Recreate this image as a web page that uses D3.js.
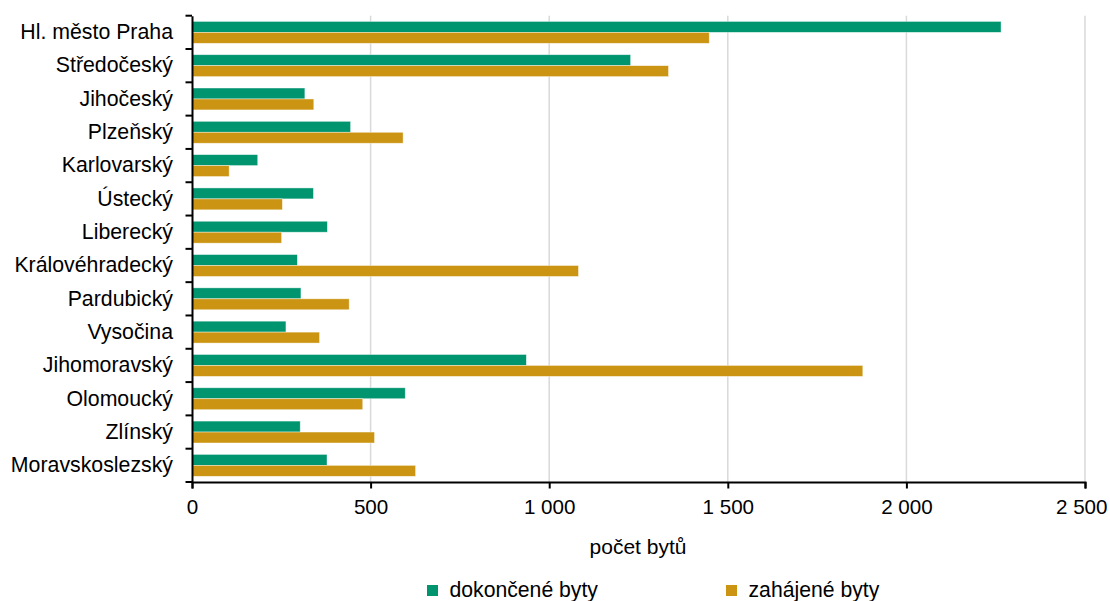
<!DOCTYPE html>
<html>
<head>
<meta charset="utf-8">
<script src="https://cdn.jsdelivr.net/npm/d3@7"></script>
<style>
  html, body { margin: 0; padding: 0; background: #fff; }
  svg { display: block; font-family: "Liberation Sans", Arial, sans-serif; }
</style>
</head>
<body>
<svg id="chart" width="1110" height="601"></svg>
<script>
const categories = ["Hl. město Praha", "Středočeský", "Jihočeský", "Plzeňský", "Karlovarský",
  "Ústecký", "Liberecký", "Královéhradecký", "Pardubický", "Vysočina", "Jihomoravský",
  "Olomoucký", "Zlínský", "Moravskoslezský"];
const seriesNames = ["dokončené byty", "zahájené byty"];
const dokoncene = [2265, 1228, 316, 444, 184, 340, 379, 295, 305, 263, 936, 597, 303, 378];
const zahajene = [1448, 1334, 341, 591, 104, 253, 251, 1082, 440, 357, 1878, 478, 511, 626];
const xTicks = [0, 500, 1000, 1500, 2000, 2500];
const xTitle = "počet bytů";
const colors = ["#00956f", "#cb9513"];

const svg = d3.select("#chart");
const m = { left: 192, right: 1085, top: 15.7, bottom: 482 };

const x = d3.scaleLinear().domain([0, 2500]).range([m.left, m.right]);
const y = d3.scaleBand().domain(categories).range([m.top, m.bottom]).padding(0);
const ys = d3.scaleBand().domain(seriesNames).range([0, y.bandwidth()]).paddingInner(0).paddingOuter(0.52);

// gridlines
svg.append("g")
  .selectAll("line")
  .data(xTicks.filter(t => t > 0))
  .join("line")
  .attr("x1", d => x(d)).attr("x2", d => x(d))
  .attr("y1", m.top).attr("y2", m.bottom)
  .attr("stroke", "#d9d9d9").attr("stroke-width", 1.5);

// bars
const data = [dokoncene, zahajene];
const gBars = svg.append("g");
seriesNames.forEach((s, si) => {
  gBars.append("g")
    .selectAll("rect")
    .data(categories.map((c, i) => ({ c, v: data[si][i] })))
    .join("rect")
    .attr("x", x(0))
    .attr("y", d => y(d.c) + ys(s))
    .attr("width", d => x(d.v) - x(0))
    .attr("height", ys.bandwidth())
    .attr("fill", colors[si])
    .attr("stroke", "rgba(255,255,255,0.6)")
    .attr("stroke-width", 0.7);
});

// x axis
const xAxis = svg.append("g")
  .attr("transform", `translate(0,${m.bottom})`)
  .call(d3.axisBottom(x).tickValues(xTicks).tickSize(6.5).tickPadding(11)
    .tickFormat(d => d3.format(",")(d).replace(/,/g, " ")));
xAxis.select(".domain").attr("stroke", "#000").attr("stroke-width", 2);
xAxis.selectAll(".tick line").attr("stroke", "#000").attr("stroke-width", 2);
xAxis.selectAll(".tick text").attr("font-size", 20.6).attr("fill", "#000")
  .attr("font-family", "'Liberation Sans', Arial, sans-serif");
// keep the last label inside the canvas
xAxis.selectAll(".tick text").filter(d => d === 2500)
  .attr("text-anchor", "end").attr("x", 22);

// y axis
const yAxis = svg.append("g")
  .attr("transform", `translate(${m.left},0)`)
  .call(d3.axisLeft(y).tickSize(0).tickPadding(19));
yAxis.select(".domain").attr("stroke", "#000").attr("stroke-width", 2);
yAxis.selectAll(".tick text").attr("font-size", 21.3).attr("fill", "#000")
  .attr("font-family", "'Liberation Sans', Arial, sans-serif");
// category boundary ticks
const bounds = categories.map(c => y(c)).concat([m.bottom]);
svg.append("g").selectAll("line").data(bounds).join("line")
  .attr("x1", m.left - 6.5).attr("x2", m.left)
  .attr("y1", d => d).attr("y2", d => d)
  .attr("stroke", "#000").attr("stroke-width", 2);

// x title
svg.append("text")
  .attr("x", (m.left + m.right) / 2 - 0.5)
  .attr("y", 554)
  .attr("text-anchor", "middle")
  .attr("font-size", 21)
  .attr("fill", "#000")
  .text(xTitle);

// legend
const legendX = [427, 726];
const lg = svg.append("g");
seriesNames.forEach((s, i) => {
  lg.append("rect")
    .attr("x", legendX[i]).attr("y", 585)
    .attr("width", 11).attr("height", 11)
    .attr("fill", colors[i]);
  lg.append("text")
    .attr("x", legendX[i] + 22.5).attr("y", 597)
    .attr("font-size", 21.2)
    .attr("fill", "#000")
    .text(s);
});
</script>
</body>
</html>
